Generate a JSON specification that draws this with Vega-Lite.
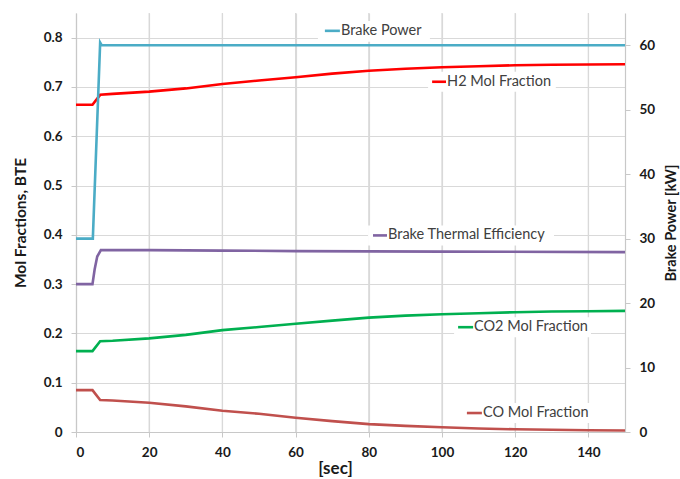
{
  "$schema": "https://vega.github.io/schema/vega-lite/v6.json",
  "width": 549,
  "height": 419,
  "autosize": "none",
  "padding": {"left": 76, "top": 13, "right": 55, "bottom": 47},
  "background": "white",
  "config": {
    "view": {"stroke": null},
    "font": "Lato",
    "axis": {
      "labelFont": "Lato",
      "labelFontWeight": "bold",
      "labelFontSize": 13.5,
      "labelColor": "#1a1a1a",
      "titleFont": "Lato",
      "titleFontWeight": "bold",
      "titleColor": "#1a1a1a",
      "domainColor": "#c8c8c8",
      "tickColor": "#c8c8c8",
      "gridColor": "#d9d9d9",
      "tickSize": 5,
      "domainWidth": 1.2,
      "gridWidth": 1.2
    }
  },
  "datasets": {
    "xgrid": [
      {"t": 20}, {"t": 40}, {"t": 60}, {"t": 80}, {"t": 100}, {"t": 120}, {"t": 140}
    ],
    "mol": [
      {"t": 0, "series": "H2 Mol Fraction", "value": 0.664},
      {"t": 4.5, "series": "H2 Mol Fraction", "value": 0.664},
      {"t": 6.6, "series": "H2 Mol Fraction", "value": 0.684},
      {"t": 10, "series": "H2 Mol Fraction", "value": 0.686},
      {"t": 20, "series": "H2 Mol Fraction", "value": 0.6905},
      {"t": 30, "series": "H2 Mol Fraction", "value": 0.697},
      {"t": 40, "series": "H2 Mol Fraction", "value": 0.706},
      {"t": 50, "series": "H2 Mol Fraction", "value": 0.713},
      {"t": 60, "series": "H2 Mol Fraction", "value": 0.7195},
      {"t": 70, "series": "H2 Mol Fraction", "value": 0.727},
      {"t": 80, "series": "H2 Mol Fraction", "value": 0.733},
      {"t": 90, "series": "H2 Mol Fraction", "value": 0.737},
      {"t": 100, "series": "H2 Mol Fraction", "value": 0.740},
      {"t": 110, "series": "H2 Mol Fraction", "value": 0.742},
      {"t": 120, "series": "H2 Mol Fraction", "value": 0.744},
      {"t": 130, "series": "H2 Mol Fraction", "value": 0.745},
      {"t": 140, "series": "H2 Mol Fraction", "value": 0.7455},
      {"t": 150, "series": "H2 Mol Fraction", "value": 0.746},

      {"t": 0, "series": "Brake Thermal Efficiency", "value": 0.300},
      {"t": 4.5, "series": "Brake Thermal Efficiency", "value": 0.300},
      {"t": 5.1, "series": "Brake Thermal Efficiency", "value": 0.330},
      {"t": 5.8, "series": "Brake Thermal Efficiency", "value": 0.356},
      {"t": 6.8, "series": "Brake Thermal Efficiency", "value": 0.369},
      {"t": 20, "series": "Brake Thermal Efficiency", "value": 0.369},
      {"t": 40, "series": "Brake Thermal Efficiency", "value": 0.368},
      {"t": 60, "series": "Brake Thermal Efficiency", "value": 0.367},
      {"t": 80, "series": "Brake Thermal Efficiency", "value": 0.3665},
      {"t": 100, "series": "Brake Thermal Efficiency", "value": 0.366},
      {"t": 150, "series": "Brake Thermal Efficiency", "value": 0.365},

      {"t": 0, "series": "CO2 Mol Fraction", "value": 0.164},
      {"t": 4.5, "series": "CO2 Mol Fraction", "value": 0.164},
      {"t": 6.6, "series": "CO2 Mol Fraction", "value": 0.184},
      {"t": 10, "series": "CO2 Mol Fraction", "value": 0.185},
      {"t": 20, "series": "CO2 Mol Fraction", "value": 0.190},
      {"t": 30, "series": "CO2 Mol Fraction", "value": 0.197},
      {"t": 40, "series": "CO2 Mol Fraction", "value": 0.2066},
      {"t": 50, "series": "CO2 Mol Fraction", "value": 0.213},
      {"t": 60, "series": "CO2 Mol Fraction", "value": 0.2195},
      {"t": 70, "series": "CO2 Mol Fraction", "value": 0.226},
      {"t": 80, "series": "CO2 Mol Fraction", "value": 0.232},
      {"t": 90, "series": "CO2 Mol Fraction", "value": 0.236},
      {"t": 100, "series": "CO2 Mol Fraction", "value": 0.239},
      {"t": 110, "series": "CO2 Mol Fraction", "value": 0.241},
      {"t": 120, "series": "CO2 Mol Fraction", "value": 0.243},
      {"t": 130, "series": "CO2 Mol Fraction", "value": 0.2445},
      {"t": 140, "series": "CO2 Mol Fraction", "value": 0.245},
      {"t": 150, "series": "CO2 Mol Fraction", "value": 0.2457},

      {"t": 0, "series": "CO Mol Fraction", "value": 0.085},
      {"t": 4.5, "series": "CO Mol Fraction", "value": 0.085},
      {"t": 6.6, "series": "CO Mol Fraction", "value": 0.065},
      {"t": 10, "series": "CO Mol Fraction", "value": 0.064},
      {"t": 20, "series": "CO Mol Fraction", "value": 0.0594},
      {"t": 30, "series": "CO Mol Fraction", "value": 0.052},
      {"t": 40, "series": "CO Mol Fraction", "value": 0.043},
      {"t": 50, "series": "CO Mol Fraction", "value": 0.037},
      {"t": 60, "series": "CO Mol Fraction", "value": 0.029},
      {"t": 70, "series": "CO Mol Fraction", "value": 0.022},
      {"t": 80, "series": "CO Mol Fraction", "value": 0.016},
      {"t": 90, "series": "CO Mol Fraction", "value": 0.0125},
      {"t": 100, "series": "CO Mol Fraction", "value": 0.0095},
      {"t": 110, "series": "CO Mol Fraction", "value": 0.007},
      {"t": 120, "series": "CO Mol Fraction", "value": 0.0055},
      {"t": 130, "series": "CO Mol Fraction", "value": 0.0045},
      {"t": 140, "series": "CO Mol Fraction", "value": 0.0035},
      {"t": 150, "series": "CO Mol Fraction", "value": 0.003}
    ],
    "power": [
      {"t": 0, "series": "Brake Power", "kw": 30},
      {"t": 4.6, "series": "Brake Power", "kw": 30},
      {"t": 6.6, "series": "Brake Power", "kw": 60.4},
      {"t": 7.0, "series": "Brake Power", "kw": 60},
      {"t": 150, "series": "Brake Power", "kw": 60}
    ],
    "labels": [
      {"series": "Brake Power", "label": "Brake Power", "k1": 68.0, "k2": 72.1, "tx": 72.4, "y": 0.8138, "b1": 66.1, "b2": 96.7, "y1": 0.834, "y2": 0.7915},
      {"series": "H2 Mol Fraction", "label": "H2 Mol Fraction", "k1": 97.3, "k2": 101.1, "tx": 101.4, "y": 0.7105, "b1": 96.2, "b2": 131.1, "y1": 0.7308, "y2": 0.6903},
      {"series": "Brake Thermal Efficiency", "label": "Brake Thermal Efficiency", "k1": 81.15, "k2": 84.97, "tx": 85.25, "y": 0.3988, "b1": 79.8, "b2": 130.6, "y1": 0.419, "y2": 0.3785},
      {"series": "CO2 Mol Fraction", "label": "CO2 Mol Fraction", "k1": 104.4, "k2": 108.5, "tx": 108.75, "y": 0.2126, "b1": 103.3, "b2": 140.7, "y1": 0.2328, "y2": 0.1923},
      {"series": "CO Mol Fraction", "label": "CO Mol Fraction", "k1": 106.8, "k2": 110.9, "tx": 111.2, "y": 0.0385, "b1": 105.7, "b2": 140.7, "y1": 0.0587, "y2": 0.0182}
    ]
  },
  "layer": [
    {
      "data": {"name": "xgrid"},
      "mark": {"type": "rule", "color": "#d9d9d9", "strokeWidth": 1.2},
      "encoding": {
        "x": {"field": "t", "type": "quantitative"}
      }
    },
    {
      "data": {"name": "mol"},
      "mark": {"type": "line", "strokeWidth": 2.6},
      "encoding": {
        "x": {
          "field": "t", "type": "quantitative",
          "scale": {"domain": [0, 150], "nice": false},
          "axis": {
            "values": [0, 20, 40, 60, 80, 100, 120, 140],
            "title": "[sec]", "titleFontSize": 17,
            "labelPadding": 8,
            "titleX": 259, "titleY": 36, "titleBaseline": "middle", "titleAlign": "center",
            "grid": true
          }
        },
        "y": {
          "field": "value", "type": "quantitative",
          "scale": {"domain": [0, 0.85], "nice": false},
          "axis": {
            "orient": "left",
            "values": [0, 0.1, 0.2, 0.3, 0.4, 0.5, 0.6, 0.7, 0.8],
            "labelExpr": "datum.value == 0 ? '0' : format(datum.value, '.1f')",
            "title": "Mol Fractions, BTE", "titleFontSize": 15.5,
            "labelPadding": 9, "titlePadding": 15,
            "grid": true
          }
        },
        "color": {"field": "series", "type": "nominal", "legend": null,
          "scale": {
            "domain": ["Brake Power", "H2 Mol Fraction", "Brake Thermal Efficiency", "CO2 Mol Fraction", "CO Mol Fraction"],
            "range": ["#4BACC6", "#FF0000", "#8064A2", "#00B050", "#C0504D"]
          }
        },
        "detail": {"field": "series"}
      }
    },
    {
      "data": {"name": "power"},
      "mark": {"type": "line", "strokeWidth": 2.6},
      "encoding": {
        "x": {"field": "t", "type": "quantitative"},
        "y": {
          "field": "kw", "type": "quantitative",
          "scale": {"domain": [0, 65], "nice": false},
          "axis": {
            "orient": "right",
            "values": [0, 10, 20, 30, 40, 50, 60],
            "title": "Brake Power [kW]", "titleFontSize": 14.5,
            "titleAngle": 270, "titleBaseline": "top",
            "labelPadding": 9, "titlePadding": 10,
            "grid": false
          }
        },
        "color": {"field": "series", "type": "nominal", "legend": null}
      }
    },
    {
      "data": {"name": "labels"},
      "mark": {"type": "rect", "fill": "white"},
      "encoding": {
        "x": {"field": "b1", "type": "quantitative"},
        "x2": {"field": "b2"},
        "y": {"field": "y1", "type": "quantitative", "scale": {"domain": [0, 0.85], "nice": false}, "axis": null},
        "y2": {"field": "y2"}
      }
    },
    {
      "data": {"name": "labels"},
      "mark": {"type": "rule", "strokeWidth": 2.6},
      "encoding": {
        "x": {"field": "k1", "type": "quantitative"},
        "x2": {"field": "k2"},
        "y": {"field": "y", "type": "quantitative", "scale": {"domain": [0, 0.85], "nice": false}, "axis": null},
        "color": {"field": "series", "type": "nominal", "legend": null}
      }
    },
    {
      "data": {"name": "labels"},
      "mark": {"type": "text", "align": "left", "baseline": "middle", "font": "Lato", "fontSize": 14.5, "color": "#404040"},
      "encoding": {
        "x": {"field": "tx", "type": "quantitative"},
        "y": {"field": "y", "type": "quantitative", "scale": {"domain": [0, 0.85], "nice": false}, "axis": null},
        "text": {"field": "label"}
      }
    }
  ],
  "resolve": {"scale": {"y": "independent"}}
}
